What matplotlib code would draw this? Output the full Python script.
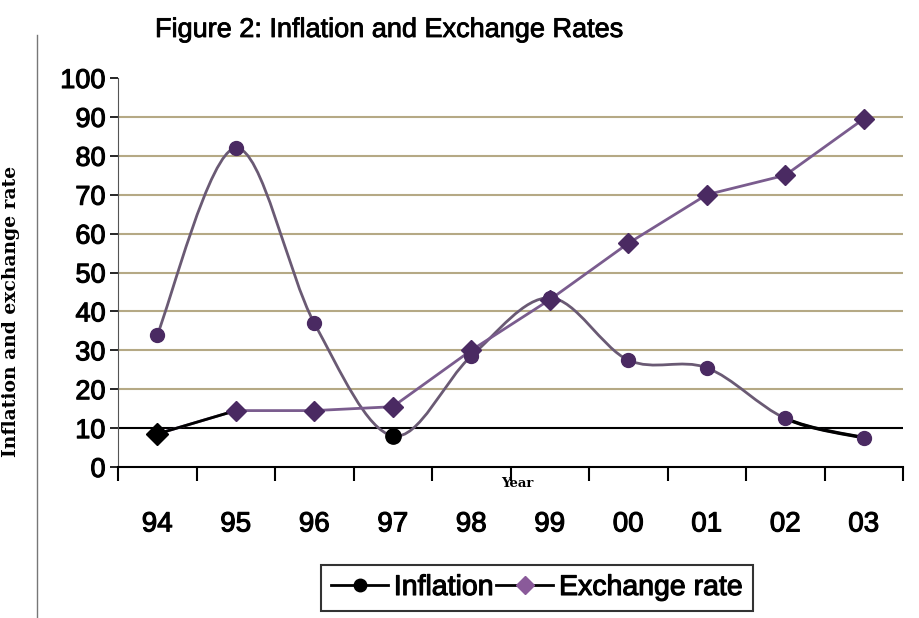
import numpy as np
import matplotlib
matplotlib.use("Agg")
import matplotlib.pyplot as plt
import matplotlib.patheffects as pe
from matplotlib.path import Path
from matplotlib.patches import PathPatch
from matplotlib.lines import Line2D

years = ["94", "95", "96", "97", "98", "99", "00", "01", "02", "03"]
inflation = [34, 82, 37, 8, 28.5, 43.5, 27.5, 25.5, 12.5, 7.5]
exchange = [8.5, 14.5, 14.5, 15.5, 30, 43, 57.5, 70, 75, 89.5]

purple_dark = "#4a2a62"
purple_line = "#7a5c8e"
infl_line = "#6a5a74"
grid_col = "#b5a985"

plt.rcParams['font.family'] = ['Liberation Sans', 'DejaVu Sans']
thick = [pe.withStroke(linewidth=0.8, foreground="black")]

fig = plt.figure(figsize=(9.2, 6.18), dpi=100)
ax = fig.add_axes([118/920, 1-467/618, 785/920, 389/618])

x = np.arange(len(years)) + 0.5

# smoothed inflation line (bezier through the points, like Excel's smoothing)
pts = np.column_stack([x, inflation])
verts = [pts[0]]
codes = [Path.MOVETO]
for i in range(len(pts) - 1):
    p0 = pts[i - 1] if i > 0 else pts[i]
    p1 = pts[i]
    p2 = pts[i + 1]
    p3 = pts[i + 2] if i + 2 < len(pts) else pts[i + 1]
    c1 = p1 + (p2 - p0) / 6
    c2 = p2 - (p3 - p1) / 6
    verts += [c1, c2, p2]
    codes += [Path.CURVE4] * 3
ax.add_patch(PathPatch(Path(verts, codes), facecolor="none", edgecolor=infl_line, lw=2, zorder=3))
# last bit looks black in the scan
ax.add_patch(PathPatch(Path(verts[-4:], [Path.MOVETO] + [Path.CURVE4] * 3),
                       facecolor="none", edgecolor="black", lw=2.5, zorder=3))

ax.plot(x, exchange, color=purple_line, lw=2, zorder=3)
ax.plot(x[:2], exchange[:2], color="black", lw=2, zorder=3)

ax.plot(x, inflation, "o", ms=10, color=purple_dark, zorder=4)
ax.plot(x, exchange, "D", ms=10, color=purple_dark, zorder=5)
ax.plot(x[3], inflation[3], "o", ms=11, color="black", zorder=6)
ax.plot(x[0], exchange[0], "D", ms=11, color="black", zorder=6)

ax.set_xlim(0, len(years))
ax.set_ylim(0, 100)
ax.set_yticks(range(0, 101, 10))
for v in range(20, 100, 10):
    ax.axhline(v, color=grid_col, lw=1.5, zorder=1)
ax.axhline(10, color="black", lw=1.5, zorder=2)

ax.set_xticks(range(len(years) + 1), minor=True)
ax.set_xticks(x)
ax.set_xticklabels(years, fontsize=20)
ax.tick_params(axis="x", which="major", length=0, pad=32)
ax.tick_params(axis="x", which="minor", length=10, width=1.5, direction="out")
ax.tick_params(axis="y", labelsize=19.5, length=6, width=1.2, pad=3)
for t in ax.get_xticklabels() + ax.get_yticklabels():
    t.set_path_effects(thick)

for s in ["top", "right"]:
    ax.spines[s].set_visible(False)
ax.spines["left"].set_color("#555555")
ax.spines["bottom"].set_linewidth(1.5)

ax.set_ylabel("Inflation and exchange rate", family=["DejaVu Serif"], fontweight="bold",
              fontsize=13.5, labelpad=0)
ax.yaxis.set_label_coords(-98/785, 0.40)
ax.text(517/785 - 118/785, -0.025, "Year", transform=ax.transAxes, family=["DejaVu Serif"],
        fontweight="bold", fontsize=9.5, ha="center", va="top")

fig.text(155/920, 1-30/618, "Figure 2: Inflation and Exchange Rates", fontsize=19.5,
         ha="left", va="center", path_effects=[pe.withStroke(linewidth=0.6, foreground="black")])

# page edge from the scan
fig.add_artist(Line2D([37/920, 37/920], [0, 1-35/618], color="#777777", lw=1))

handles = [
    Line2D([], [], color="black", lw=2, marker="o", ms=9),
    Line2D([], [], color="black", lw=2, marker="D", ms=9, mfc="#8a5a9a", mec="#8a5a9a"),
]
leg = fig.legend(handles, ["Inflation", "Exchange rate"], loc="center",
                 bbox_to_anchor=(537/920, 1-588/618), ncol=2, fontsize=20.5,
                 frameon=True, fancybox=False, edgecolor="black", handlelength=2,
                 handletextpad=0.2, columnspacing=0.1, borderpad=0.35, borderaxespad=0)
leg.get_frame().set_linewidth(1.5)
for t in leg.get_texts():
    t.set_path_effects(thick)

fig.savefig("out.png", dpi=100)
